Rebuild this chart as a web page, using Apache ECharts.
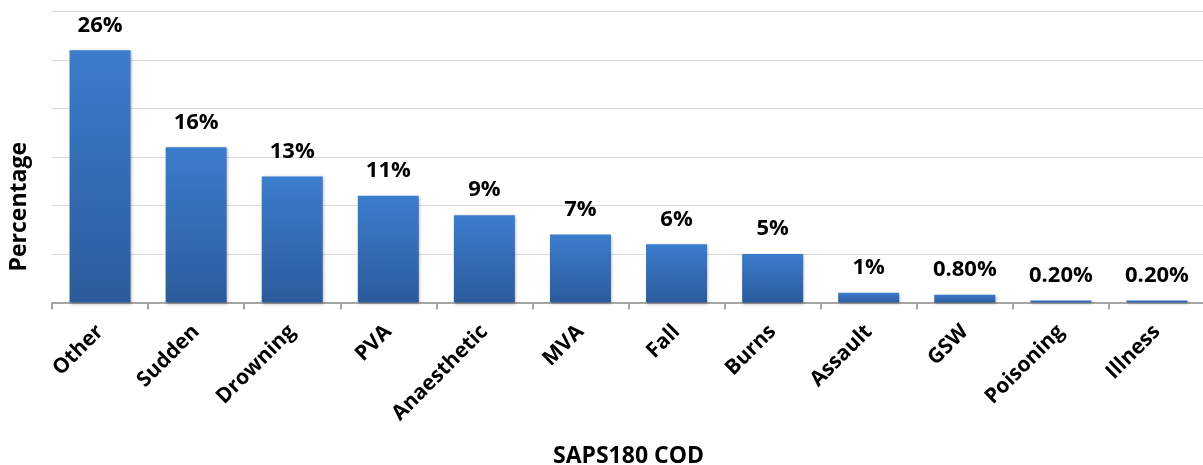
<!DOCTYPE html>
<html>
<head>
  <meta charset="utf-8" />
  <title>SAPS180 COD</title>
  <style>
    html, body { margin: 0; padding: 0; background: #ffffff; }
  </style>
  <script src="https://cdn.jsdelivr.net/npm/echarts@6/dist/echarts.min.js"></script>
</head>
<body>
  <div id="main" style="width:1203px;height:465px;"></div>
  <script type="text/javascript">
    // categories and values
    var categories = ['Other', 'Sudden', 'Drowning', 'PVA', 'Anaesthetic', 'MVA', 'Fall', 'Burns', 'Assault', 'GSW', 'Poisoning', 'Illness'];
    var values = [26, 16, 13, 11, 9, 7, 6, 5, 1, 0.8, 0.2, 0.2];
    var valueLabels = ['26%', '16%', '13%', '11%', '9%', '7%', '6%', '5%', '1%', '0.80%', '0.20%', '0.20%'];

    var myChart = echarts.init(document.getElementById('main'));
    var font = '"Open Sans", sans-serif';

    var option = {
      animation: false,
      grid: { left: 52, top: 11.5, width: 1153, height: 291, outerBoundsMode: 'none', containLabel: false },
      xAxis: {
        type: 'category',
        data: categories,
        name: 'SAPS180 COD',
        nameLocation: 'middle',
        nameGap: 142,
        nameTextStyle: { fontFamily: font, fontWeight: 'bold', fontSize: 23, color: '#000' },
        axisLine: { lineStyle: { color: '#a6a6a6', width: 2 } },
        axisTick: { show: true, length: 7, lineStyle: { color: '#a6a6a6', width: 2 } },
        axisLabel: {
          rotate: 45, margin: 26,
          fontFamily: font, fontWeight: 'bold', fontSize: 21, color: '#000'
        }
      },
      yAxis: {
        type: 'value',
        min: 0, max: 30, interval: 5,
        axisLine: { show: false },
        axisTick: { show: false },
        axisLabel: { show: false },
        splitLine: { lineStyle: { color: '#d9d9d9', width: 1 } }
      },
      graphic: [{
        type: 'text',
        left: 8,
        top: 142,
        rotation: Math.PI / 2,
        style: {
          text: 'Percentage',
          font: 'bold 23px "Open Sans", sans-serif',
          fill: '#000'
        }
      }],
      series: [{
        type: 'bar',
        data: values,
        barWidth: 61,
        itemStyle: {
          color: new echarts.graphic.LinearGradient(0, 0, 0, 1, [
            { offset: 0, color: '#3b7dcd' },
            { offset: 1, color: '#2c5b9c' }
          ]),
          shadowBlur: 3,
          shadowColor: 'rgba(0,0,0,0.3)',
          shadowOffsetX: 1,
          shadowOffsetY: 1
        },
        label: {
          show: true,
          position: 'top',
          distance: 14,
          fontFamily: font,
          fontWeight: 'bold',
          fontSize: 22,
          color: '#000',
          formatter: function (p) { return valueLabels[p.dataIndex]; }
        }
      }]
    };
    myChart.setOption(option);
  </script>
</body>
</html>
